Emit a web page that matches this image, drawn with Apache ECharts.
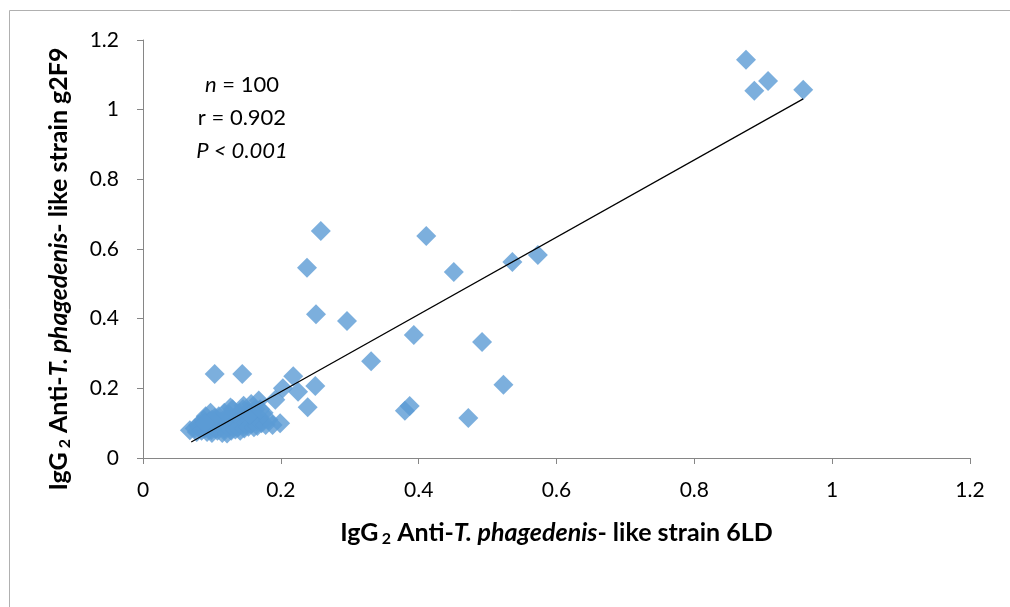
<!DOCTYPE html>
<html>
<head>
<meta charset="utf-8">
<script src="https://cdn.jsdelivr.net/npm/echarts@6/dist/echarts.min.js"></script>
<style>
  html, body { margin: 0; padding: 0; background: #fff; }
  #chart { width: 1010px; height: 607px; }
</style>
</head>
<body>
<div id="chart"></div>
<script>
// values
const xValues = [
  0.875, 0.887, 0.907, 0.958,
  0.258, 0.238, 0.411, 0.451, 0.536, 0.573,
  0.251, 0.296, 0.393, 0.492, 0.331,
  0.523, 0.380, 0.387, 0.472,
  0.104, 0.144, 0.218, 0.225, 0.250, 0.239, 0.203, 0.192, 0.199,
  0.068, 0.075, 0.078, 0.080, 0.082, 0.085, 0.086, 0.088, 0.090, 0.091,
  0.093, 0.095, 0.096, 0.098, 0.099, 0.100, 0.102, 0.104, 0.105, 0.107,
  0.108, 0.110, 0.112, 0.113, 0.115, 0.117, 0.118, 0.120, 0.122, 0.123,
  0.125, 0.126, 0.128, 0.130, 0.131, 0.132, 0.134, 0.135, 0.137, 0.138,
  0.140, 0.141, 0.143, 0.145, 0.146, 0.147, 0.149, 0.150, 0.152, 0.153,
  0.155, 0.157, 0.158, 0.160, 0.161, 0.163, 0.165, 0.166, 0.168, 0.170,
  0.172, 0.175, 0.178, 0.182, 0.188, 0.145, 0.118, 0.127, 0.155, 0.100,
  0.090, 0.170
];
const yValues = [
  1.143, 1.054, 1.082, 1.057,
  0.652, 0.546, 0.637, 0.534, 0.563, 0.583,
  0.413, 0.393, 0.353, 0.333, 0.278,
  0.210, 0.136, 0.149, 0.115,
  0.241, 0.241, 0.235, 0.190, 0.207, 0.146, 0.200, 0.167, 0.100,
  0.080, 0.085, 0.075, 0.095, 0.088, 0.078, 0.100, 0.110, 0.085, 0.120,
  0.075, 0.095, 0.105, 0.130, 0.080, 0.072, 0.092, 0.115, 0.085, 0.100,
  0.078, 0.120, 0.090, 0.105, 0.072, 0.095, 0.083, 0.110, 0.070, 0.100,
  0.125, 0.088, 0.078, 0.140, 0.095, 0.110, 0.082, 0.120, 0.100, 0.088,
  0.130, 0.078, 0.110, 0.095, 0.150, 0.085, 0.120, 0.100, 0.135, 0.090,
  0.110, 0.155, 0.098, 0.120, 0.088, 0.140, 0.105, 0.092, 0.165, 0.115,
  0.100, 0.130, 0.095, 0.110, 0.095, 0.140, 0.130, 0.145, 0.125, 0.110,
  0.100, 0.140
];
// fitted trend line end points
const trendX = [0.070, 0.958];
const trendY = [0.046, 1.031];
const tickLabels = ['0', '0.2', '0.4', '0.6', '0.8', '1', '1.2'];

const points = xValues.map((x, i) => [x, yValues[i]]);
const trend = trendX.map((x, i) => [x, trendY[i]]);

const font = 'Lato, "Open Sans", sans-serif';
const axisGray = '#868686';
const nameRich = {
  b: { fontFamily: font, fontWeight: 'bold', fontSize: 25, color: '#000' },
  bi: { fontFamily: font, fontWeight: 'bold', fontStyle: 'italic', fontSize: 25, color: '#000' },
  s: { fontFamily: font, fontWeight: 'bold', fontSize: 16, color: '#000', padding: [13, 0, 0, 0] }
};

const chart = echarts.init(document.getElementById('chart'));
chart.setOption({
  backgroundColor: '#fff',
  animation: false,
  grid: { left: 143, right: 40, top: 40, bottom: 149 },
  graphic: [
    {
      type: 'rect',
      shape: { x: 9.5, y: 10.5, width: 1100, height: 700 },
      style: { fill: 'none', stroke: '#b0b0b0', lineWidth: 1 },
      silent: true
    },
    {
      type: 'text',
      x: 242,
      y: 68,
      style: {
        text: '{i|n} = 100\nr = 0.902\n{i|P < 0.001}',
        align: 'center',
        fontFamily: font,
        fontSize: 22,
        lineHeight: 33,
        fill: '#000',
        rich: {
          i: { fontStyle: 'italic', fontFamily: font, fontSize: 22, lineHeight: 33 }
        }
      }
    }
  ],
  xAxis: {
    type: 'value',
    min: 0,
    max: 1.2,
    interval: 0.2,
    name: '{b|IgG} {s|2}{b| Anti-}{bi|T. phagedenis}{b|- like strain 6LD}',
    nameLocation: 'middle',
    nameGap: 60,
    nameTextStyle: { rich: nameRich },
    axisLine: { show: true, lineStyle: { color: axisGray } },
    axisTick: { show: true, inside: false, length: 6, lineStyle: { color: axisGray } },
    axisLabel: {
      margin: 22,
      fontFamily: font,
      fontSize: 21,
      color: '#000',
      formatter: (v) => tickLabels[Math.round(v / 0.2)]
    },
    splitLine: { show: false }
  },
  yAxis: {
    type: 'value',
    min: 0,
    max: 1.2,
    interval: 0.2,
    name: '{b|IgG}{s| 2}{b| Anti-}{bi|T. phagedenis}{b|- like strain g2F9}',
    nameLocation: 'middle',
    nameRotate: 90,
    nameGap: 70,
    nameTextStyle: { rich: nameRich, padding: [0, 40, 0, 0] },
    axisLine: { show: true, lineStyle: { color: axisGray } },
    axisTick: { show: true, inside: false, length: 6, lineStyle: { color: axisGray } },
    axisLabel: {
      margin: 24,
      fontFamily: font,
      fontSize: 21,
      color: '#000',
      formatter: (v) => tickLabels[Math.round(v / 0.2)]
    },
    splitLine: { show: false }
  },
  series: [
    {
      name: 'IgG2',
      type: 'scatter',
      symbol: 'diamond',
      symbolSize: 20,
      itemStyle: { color: '#5b9bd5' },
      data: points,
      z: 2
    },
    {
      name: 'Trend',
      type: 'line',
      data: trend,
      symbol: 'none',
      lineStyle: { color: '#000', width: 1.2 },
      z: 3
    }
  ]
});
</script>
</body>
</html>
